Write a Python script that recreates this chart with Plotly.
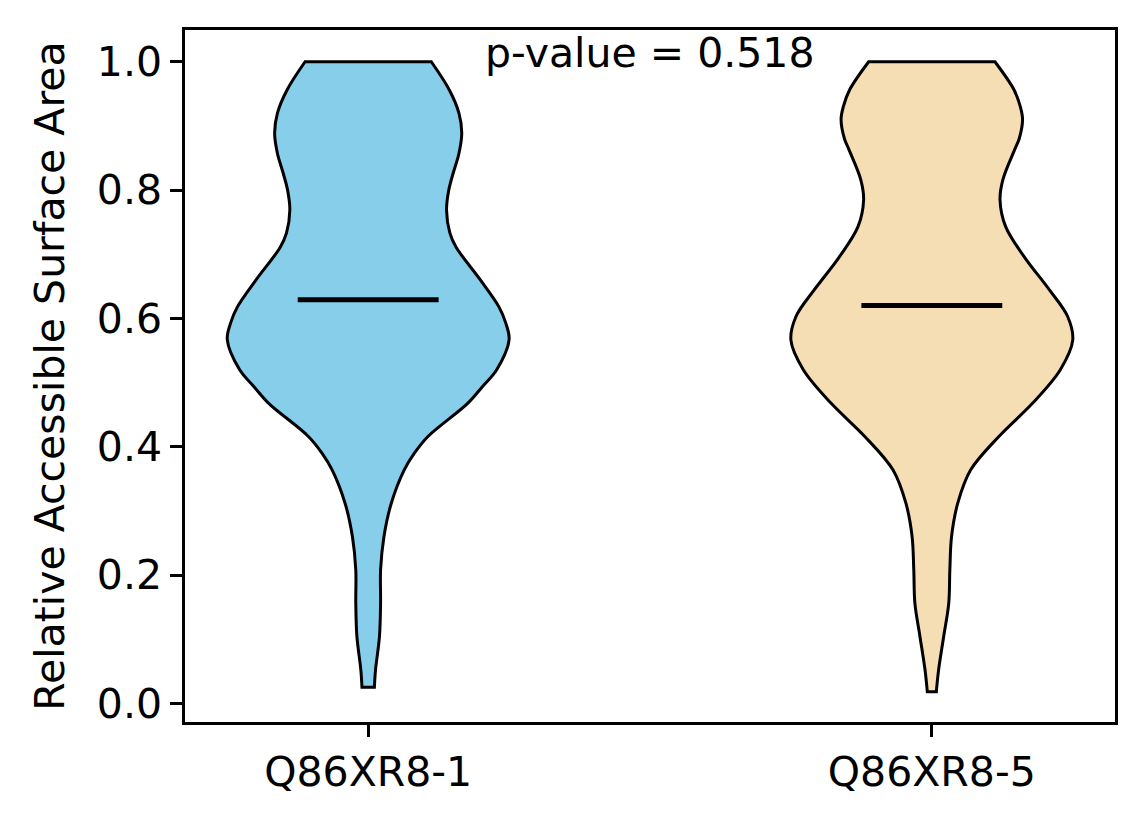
import plotly.graph_objects as go

# ---- data ----
categories = ["Q86XR8-1", "Q86XR8-5"]
positions = [1, 2]
colors = ["#87CEEB", "#F5DEB3"]

# density profile (half-width in x units) at RSA levels, violin 1
rsa_levels_1 = [1.000, 0.956, 0.920, 0.889, 0.857, 0.827, 0.800, 0.769, 0.733,
                0.711, 0.660, 0.618, 0.593, 0.567, 0.520, 0.494, 0.468, 0.416,
                0.390, 0.364, 0.312, 0.260, 0.208, 0.157, 0.104, 0.052, 0.025]
half_width_1 = [0.112, 0.144, 0.161, 0.166, 0.161, 0.151, 0.143, 0.139, 0.145,
                0.156, 0.199, 0.232, 0.244, 0.250, 0.228, 0.203, 0.177, 0.106,
                0.082, 0.064, 0.041, 0.028, 0.022, 0.022, 0.020, 0.013, 0.011]

# violin 2
rsa_levels_2 = [1.000, 0.956, 0.930, 0.910, 0.880, 0.863, 0.816, 0.785, 0.743,
                0.696, 0.644, 0.603, 0.566, 0.520, 0.468, 0.416, 0.364, 0.312,
                0.260, 0.208, 0.156, 0.104, 0.052, 0.018]
half_width_2 = [0.112, 0.146, 0.157, 0.161, 0.155, 0.147, 0.126, 0.121, 0.131,
                0.164, 0.209, 0.241, 0.250, 0.228, 0.179, 0.119, 0.069, 0.046,
                0.035, 0.032, 0.030, 0.021, 0.012, 0.008]

means = [0.629, 0.620]
p_value = 0.518

FONT = "DejaVu Sans"
FS = 41

fig = go.Figure()

profiles = [(rsa_levels_1, half_width_1), (rsa_levels_2, half_width_2)]
for pos, col, (lv, hw) in zip(positions, colors, profiles):
    left_x = [pos - w for w in hw]
    right_x = [pos + w for w in reversed(hw)]
    lv_rev = list(reversed(lv))
    # corner points repeated so the flat top/bottom keep sharp corners
    xs = ([left_x[0]] + left_x + [left_x[-1]] + [right_x[0]] + right_x
          + [right_x[-1]] + [left_x[0]])
    ys = ([lv[0]] + list(lv) + [lv[-1]] + [lv_rev[0]] + lv_rev
          + [lv_rev[-1]] + [lv[0]])
    fig.add_trace(go.Scatter(
        x=xs, y=ys, mode="lines", fill="toself", fillcolor=col,
        line=dict(color="black", width=3, shape="spline", smoothing=1.0),
        hoverinfo="skip", showlegend=False))

for pos, m in zip(positions, means):
    fig.add_trace(go.Scatter(
        x=[pos - 0.125, pos + 0.125], y=[m, m], mode="lines",
        line=dict(color="black", width=5), showlegend=False))

fig.add_annotation(x=1.5, y=1.0, xref="x", yref="y", text=f"p-value = {p_value}",
                   showarrow=False, yanchor="middle", yshift=9,
                   font=dict(family=FONT, size=FS, color="black"))

axis_common = dict(showline=True, linecolor="black", linewidth=2.5, mirror=True,
                   ticks="outside", ticklen=12, tickwidth=2.5, tickcolor="black",
                   showgrid=False, zeroline=False,
                   tickfont=dict(family=FONT, size=FS, color="black"))

fig.update_xaxes(range=[0.675, 2.325], tickvals=positions, ticktext=categories,
                 **axis_common)
fig.update_yaxes(range=[-0.029, 1.0495], tickvals=[0, 0.2, 0.4, 0.6, 0.8, 1.0],
                 tickformat=".1f",
                 title=dict(text="Relative Accessible Surface Area",
                            font=dict(family=FONT, size=FS, color="black"),
                            standoff=20),
                 **axis_common)

# page body has an 8px margin, so the figure is 8px smaller and margins shifted
fig.update_layout(width=1136, height=816, plot_bgcolor="white", paper_bgcolor="white",
                  margin=dict(l=177, r=29, t=22, b=102),
                  font=dict(family=FONT, size=FS, color="black"))

fig.write_html("out.html")
